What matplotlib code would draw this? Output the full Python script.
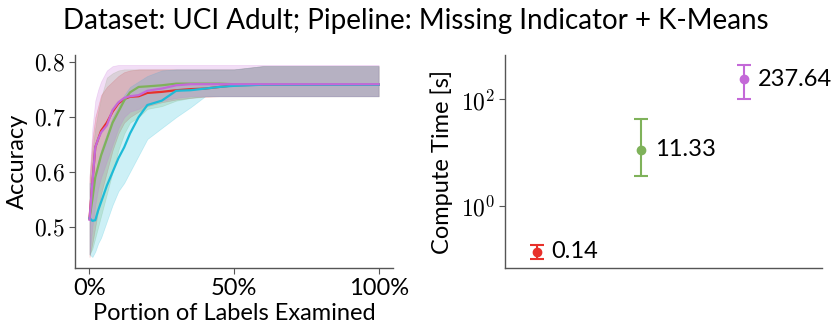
import numpy as np
import matplotlib
matplotlib.use('Agg')
import matplotlib.pyplot as plt
from matplotlib.ticker import FuncFormatter, FixedLocator

# ---- data ----
portion = [0.00, 0.01, 0.02, 0.03, 0.04, 0.06, 0.08, 0.10, 0.12, 0.14, 0.17,
           0.20, 0.25, 0.30, 0.35, 0.40, 0.45, 0.50, 0.60, 0.80, 1.00]

red_mean = [0.515, 0.58, 0.645, 0.66, 0.675, 0.69, 0.71, 0.725, 0.733, 0.737, 0.738,
            0.744, 0.746, 0.749, 0.751, 0.752, 0.755, 0.758, 0.759, 0.759, 0.759]
red_low = [0.445, 0.47, 0.50, 0.53, 0.56, 0.60, 0.64, 0.67, 0.69, 0.70, 0.71,
           0.72, 0.727, 0.732, 0.735, 0.737, 0.738, 0.738, 0.738, 0.738, 0.738]
red_high = [0.59, 0.66, 0.70, 0.72, 0.74, 0.755, 0.765, 0.775, 0.782, 0.785, 0.787,
            0.787, 0.787, 0.787, 0.787, 0.787, 0.787, 0.787, 0.793, 0.793, 0.793]

green_mean = [0.515, 0.55, 0.59, 0.61, 0.63, 0.66, 0.69, 0.71, 0.73, 0.745, 0.755,
              0.756, 0.758, 0.761, 0.761, 0.761, 0.761, 0.760, 0.760, 0.760, 0.760]
green_low = [0.45, 0.46, 0.48, 0.50, 0.52, 0.56, 0.60, 0.64, 0.67, 0.69, 0.70,
             0.715, 0.72, 0.73, 0.735, 0.738, 0.738, 0.738, 0.738, 0.738, 0.738]
green_high = [0.58, 0.64, 0.68, 0.71, 0.735, 0.772, 0.78, 0.785, 0.787, 0.787, 0.787,
              0.787, 0.787, 0.787, 0.787, 0.787, 0.787, 0.787, 0.793, 0.793, 0.793]

cyan_mean = [0.516, 0.511, 0.512, 0.53, 0.545, 0.575, 0.60, 0.625, 0.645, 0.67, 0.70,
             0.722, 0.73, 0.748, 0.749, 0.752, 0.755, 0.757, 0.759, 0.759, 0.759]
cyan_low = [0.45, 0.445, 0.455, 0.47, 0.48, 0.51, 0.54, 0.565, 0.58, 0.60, 0.63,
            0.66, 0.68, 0.70, 0.718, 0.738, 0.738, 0.738, 0.738, 0.738, 0.738]
cyan_high = [0.58, 0.58, 0.60, 0.62, 0.64, 0.67, 0.70, 0.72, 0.74, 0.755, 0.765,
             0.775, 0.785, 0.787, 0.787, 0.787, 0.787, 0.787, 0.793, 0.793, 0.793]

purple_mean = [0.513, 0.58, 0.645, 0.66, 0.672, 0.685, 0.713, 0.727, 0.735, 0.738, 0.740,
               0.748, 0.752, 0.758, 0.760, 0.760, 0.760, 0.760, 0.760, 0.760, 0.760]
purple_low = [0.45, 0.50, 0.54, 0.57, 0.59, 0.62, 0.65, 0.68, 0.70, 0.71, 0.715,
              0.725, 0.73, 0.735, 0.738, 0.738, 0.738, 0.738, 0.738, 0.738, 0.738]
purple_high = [0.59, 0.68, 0.73, 0.75, 0.765, 0.785, 0.793, 0.795, 0.795, 0.795, 0.795,
               0.795, 0.795, 0.795, 0.795, 0.795, 0.795, 0.795, 0.795, 0.795, 0.795]

time_mean = [0.14, 11.33, 237.64]
time_low = [0.10, 3.7, 100.0]
time_high = [0.186, 43.0, 436.0]

c_red = '#e8302a'
c_green = '#7fb25a'
c_cyan = '#1ebbd7'
c_purple = '#c469d8'
colors = [c_red, c_green, c_purple]

plt.rcParams['font.family'] = ['Lato', 'DejaVu Sans']
plt.rcParams['mathtext.fontset'] = 'cm'

fig = plt.figure(figsize=(8.31, 3.36), dpi=100)
ax1 = fig.add_axes([0.0903, 0.2024, 0.3827, 0.6336])
ax2 = fig.add_axes([0.6077, 0.2024, 0.3813, 0.6336])

series = [
    (red_mean, red_low, red_high, c_red),
    (green_mean, green_low, green_high, c_green),
    (cyan_mean, cyan_low, cyan_high, c_cyan),
    (purple_mean, purple_low, purple_high, c_purple),
]
for m, lo, hi, c in series:
    ax1.fill_between(portion, lo, hi, color=c, alpha=0.22, lw=0.5)
for m, lo, hi, c in series:
    ax1.plot(portion, m, color=c, lw=1.6)

ax1.set_xlim(-0.05, 1.05)
ax1.set_ylim(0.425, 0.813)
ax1.xaxis.set_major_locator(FixedLocator([0, 0.5, 1.0]))
ax1.xaxis.set_major_formatter(FuncFormatter(lambda v, p: f'{int(round(v * 100))}%'))
ax1.yaxis.set_major_locator(FixedLocator([0.5, 0.6, 0.7, 0.8]))
ax1.yaxis.set_major_formatter(FuncFormatter(lambda v, p: f'${v:.1f}$'))
ax1.set_xlabel('Portion of Labels Examined', fontsize=17, labelpad=3)
ax1.set_ylabel('Accuracy', fontsize=17, labelpad=4)

# compute time panel
xs = np.arange(len(time_mean))
for i in range(len(time_mean)):
    err = [[time_mean[i] - time_low[i]], [time_high[i] - time_mean[i]]]
    ax2.errorbar([xs[i]], [time_mean[i]], yerr=err, fmt='o', color=colors[i],
                 markersize=6, capsize=5, elinewidth=1.5, capthick=1.5)
    ax2.annotate(f'{time_mean[i]:.2f}', (xs[i], time_mean[i]), xytext=(10, 0),
                 textcoords='offset points', va='center', ha='left', fontsize=17)
ax2.set_yscale('log')
ax2.set_ylim(0.0687, 678)
ax2.set_xlim(-0.31, 2.75)
ax2.set_xticks([])
ax2.yaxis.set_major_locator(FixedLocator([1, 100]))
ax2.yaxis.set_minor_locator(FixedLocator([]))
ax2.yaxis.set_major_formatter(FuncFormatter(lambda v, p: f'$10^{{{int(round(np.log10(v)))}}}$'))
ax2.set_ylabel('Compute Time [s]', fontsize=17, labelpad=6)

for ax in (ax1, ax2):
    for s in ('top', 'right'):
        ax.spines[s].set_visible(False)
    for s in ('left', 'bottom'):
        ax.spines[s].set_color('#555555')
        ax.spines[s].set_linewidth(1.0)
    ax.tick_params(labelsize=17, color='#555555', length=4, pad=3)

fig.suptitle('Dataset: UCI Adult; Pipeline: Missing Indicator + K-Means',
             fontsize=20, y=0.975)

fig.savefig('out.png', dpi=100)
